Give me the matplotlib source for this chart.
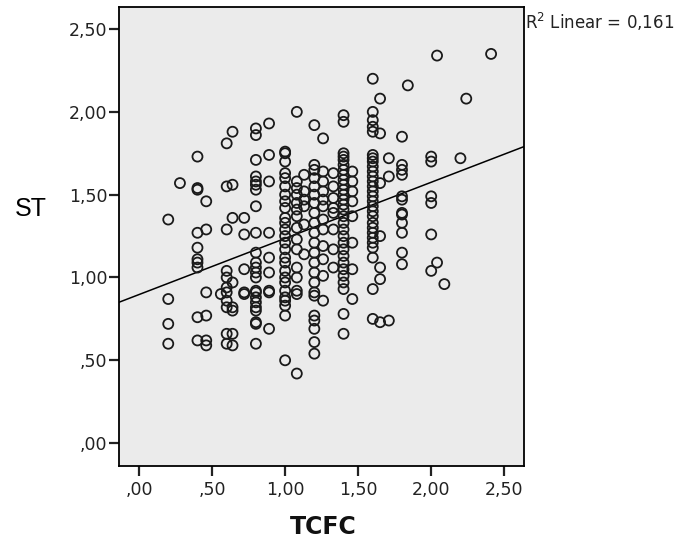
import numpy as np
import matplotlib
matplotlib.use("Agg")
import matplotlib.pyplot as plt
from matplotlib.ticker import FuncFormatter

# TCFC column -> ST values
columns = [
    (0.20, [1.35, 0.87, 0.72, 0.60]),
    (0.28, [1.57]),
    (0.40, [1.73, 1.54, 1.53, 1.27, 1.18, 1.11, 1.09, 1.06, 0.76, 0.62]),
    (0.46, [1.46, 1.29, 0.91, 0.77, 0.62, 0.59]),
    (0.56, [0.90]),
    (0.60, [1.81, 1.55, 1.29, 1.04, 1.00, 0.94, 0.91, 0.86, 0.82, 0.66, 0.60]),
    (0.64, [1.88, 1.56, 1.36, 0.97, 0.82, 0.80, 0.66, 0.59]),
    (0.72, [1.36, 1.26, 1.05, 0.91, 0.90]),
    (0.80, [1.90, 1.86, 1.71, 1.61, 1.58, 1.56, 1.53, 1.43, 1.27, 1.15, 1.09, 1.06,
            1.03, 1.00, 0.92, 0.91, 0.88, 0.85, 0.82, 0.80, 0.73, 0.72, 0.60]),
    (0.89, [1.93, 1.74, 1.58, 1.27, 1.12, 1.03, 0.92, 0.91, 0.69]),
    (1.00, [1.76, 1.75, 1.70, 1.63, 1.60, 1.55, 1.50, 1.46, 1.42, 1.36, 1.33, 1.29,
            1.25, 1.21, 1.17, 1.12, 1.09, 1.04, 1.00, 0.97, 0.92, 0.88, 0.86, 0.83,
            0.77, 0.50]),
    (1.08, [2.00, 1.58, 1.54, 1.50, 1.45, 1.41, 1.37, 1.30, 1.23, 1.17, 1.06, 1.00,
            0.92, 0.90, 0.42]),
    (1.13, [1.62, 1.52, 1.47, 1.43, 1.32, 1.14]),
    (1.20, [1.92, 1.68, 1.65, 1.60, 1.55, 1.50, 1.45, 1.39, 1.33, 1.27, 1.21, 1.15,
            1.09, 1.03, 0.97, 0.91, 0.89, 0.77, 0.74, 0.69, 0.61, 0.54]),
    (1.26, [1.84, 1.64, 1.58, 1.52, 1.47, 1.43, 1.35, 1.29, 1.19, 1.11, 1.01, 0.86]),
    (1.33, [1.63, 1.55, 1.48, 1.42, 1.39, 1.29, 1.17, 1.06]),
    (1.40, [1.98, 1.94, 1.75, 1.73, 1.71, 1.68, 1.65, 1.62, 1.59, 1.56, 1.53, 1.50,
            1.47, 1.44, 1.41, 1.37, 1.33, 1.29, 1.25, 1.21, 1.17, 1.13, 1.09, 1.05,
            1.01, 0.97, 0.93, 0.78, 0.66]),
    (1.46, [1.64, 1.58, 1.52, 1.46, 1.37, 1.21, 1.05, 0.87]),
    (1.60, [2.20, 2.00, 1.95, 1.91, 1.88, 1.74, 1.72, 1.70, 1.67, 1.64, 1.61, 1.58,
            1.55, 1.52, 1.49, 1.46, 1.43, 1.40, 1.37, 1.33, 1.30, 1.27, 1.24, 1.21,
            1.18, 1.12, 0.93, 0.75]),
    (1.65, [2.08, 1.87, 1.57, 1.25, 1.06, 0.99, 0.73]),
    (1.71, [1.72, 1.61, 0.74]),
    (1.80, [1.85, 1.68, 1.65, 1.62, 1.49, 1.47, 1.39, 1.38, 1.33, 1.27, 1.15, 1.08]),
    (1.84, [2.16]),
    (2.00, [1.73, 1.70, 1.49, 1.45, 1.26, 1.04]),
    (2.04, [2.34, 1.09]),
    (2.09, [0.96]),
    (2.20, [1.72]),
    (2.24, [2.08]),
    (2.41, [2.35]),
]

tcfc = np.array([x for x, ys in columns for _ in ys])
st = np.array([y for _, ys in columns for y in ys])

# fitted line as shown on the chart
fit_intercept = 0.897
fit_slope = 0.339
r2_text = "R$^2$ Linear = 0,161"

xticks = [0.0, 0.5, 1.0, 1.5, 2.0, 2.5]
yticks = [0.0, 0.5, 1.0, 1.5, 2.0, 2.5]


def spss_fmt(v, pos):
    s = f"{v:.2f}".replace(".", ",")
    if s.startswith("0,"):
        s = s[1:]
    return s


fig = plt.figure(figsize=(6.88, 5.42), dpi=100)
ax = fig.add_axes([0.173, 0.140, 0.589, 0.847])
ax.set_facecolor("#ebebeb")

xlim = (-0.137, 2.637)
ax.set_xlim(*xlim)
ax.set_ylim(-0.139, 2.633)

xs = np.array(xlim)
ax.plot(xs, fit_intercept + fit_slope * xs, color="black", lw=1.1, zorder=2)
ax.scatter(tcfc, st, s=52, facecolors="none", edgecolors="#1a1a1a", linewidths=1.3, zorder=3)

ax.set_xticks(xticks)
ax.set_yticks(yticks)
ax.xaxis.set_major_formatter(FuncFormatter(spss_fmt))
ax.yaxis.set_major_formatter(FuncFormatter(spss_fmt))
ax.tick_params(direction="out", length=7.5, width=1.6, labelsize=12.5, colors="#222222")
ax.tick_params(axis="y", pad=1)
ax.tick_params(axis="x", pad=3.5)
for sp in ax.spines.values():
    sp.set_linewidth(1.3)

fig.text(323 / 688, 1 - 527 / 542, "TCFC", fontsize=17, fontweight="bold",
         ha="center", va="center", color="#111111")
fig.text(31 / 688, 1 - 209 / 542, "ST", fontsize=18, family="Liberation Sans",
         ha="center", va="center")
fig.text(525 / 688, 1 - 22 / 542, r2_text, fontsize=12, ha="left", va="center",
         color="#222222")

fig.savefig("out.png", dpi=100)
